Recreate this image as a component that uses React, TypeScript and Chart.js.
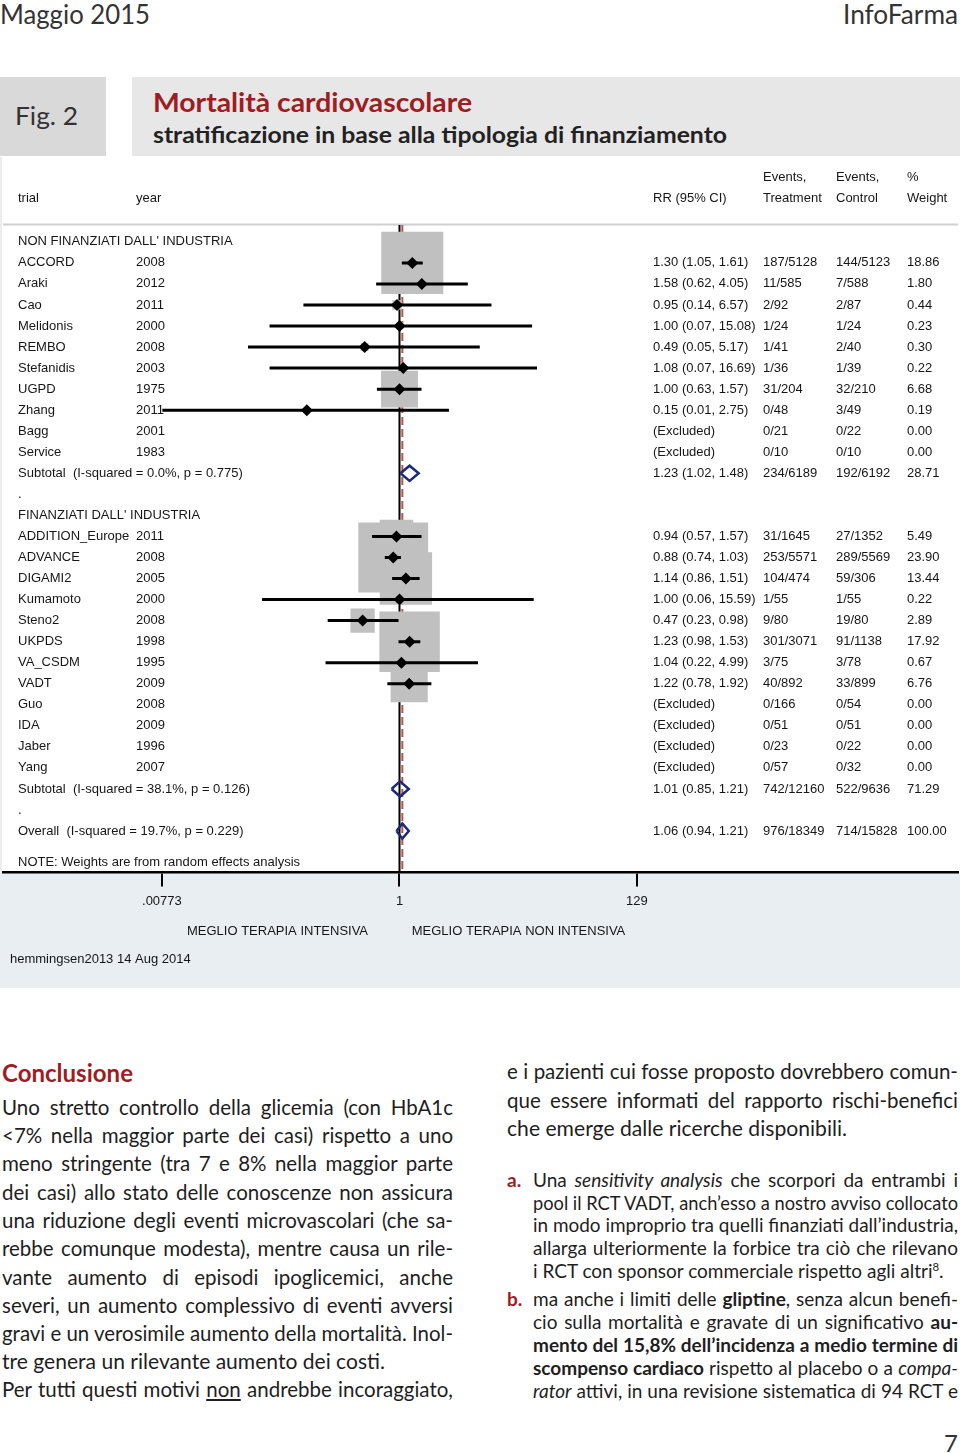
import React, { useEffect, useLayoutEffect, useRef } from 'react';
import { Chart, registerables } from 'chart.js';

Chart.register(...registerables);

// ---------------- data ----------------
const groupLabels = ["NON FINANZIATI DALL' INDUSTRIA", "FINANZIATI DALL' INDUSTRIA"];

const studyNames = ['ACCORD', 'Araki', 'Cao', 'Melidonis', 'REMBO', 'Stefanidis', 'UGPD', 'Zhang', 'Bagg', 'Service',
  'ADDITION_Europe', 'ADVANCE', 'DIGAMI2', 'Kumamoto', 'Steno2', 'UKPDS', 'VA_CSDM', 'VADT', 'Guo', 'IDA', 'Jaber', 'Yang'];
const studyYears = ['2008', '2012', '2011', '2000', '2008', '2003', '1975', '2011', '2001', '1983',
  '2011', '2008', '2005', '2000', '2008', '1998', '1995', '2009', '2008', '2009', '1996', '2007'];
const studyGroup = [0, 0, 0, 0, 0, 0, 0, 0, 0, 0, 1, 1, 1, 1, 1, 1, 1, 1, 1, 1, 1, 1];
const studyRR = [1.30, 1.58, 0.95, 1.00, 0.49, 1.08, 1.00, 0.15, null, null,
  0.94, 0.88, 1.14, 1.00, 0.47, 1.23, 1.04, 1.22, null, null, null, null];
const studyLow = [1.05, 0.62, 0.14, 0.07, 0.045, 0.07, 0.63, 0.0078, null, null,
  0.57, 0.74, 0.86, 0.06, 0.23, 0.98, 0.22, 0.78, null, null, null, null];
const studyHigh = [1.61, 4.05, 6.57, 15.08, 5.17, 16.69, 1.57, 2.75, null, null,
  1.57, 1.03, 1.51, 15.59, 0.98, 1.53, 4.99, 1.92, null, null, null, null];
const studyCIText = ['1.30 (1.05, 1.61)', '1.58 (0.62, 4.05)', '0.95 (0.14, 6.57)', '1.00 (0.07, 15.08)', '0.49 (0.05, 5.17)',
  '1.08 (0.07, 16.69)', '1.00 (0.63, 1.57)', '0.15 (0.01, 2.75)', '(Excluded)', '(Excluded)',
  '0.94 (0.57, 1.57)', '0.88 (0.74, 1.03)', '1.14 (0.86, 1.51)', '1.00 (0.06, 15.59)', '0.47 (0.23, 0.98)',
  '1.23 (0.98, 1.53)', '1.04 (0.22, 4.99)', '1.22 (0.78, 1.92)', '(Excluded)', '(Excluded)', '(Excluded)', '(Excluded)'];
const studyEventsT = ['187/5128', '11/585', '2/92', '1/24', '1/41', '1/36', '31/204', '0/48', '0/21', '0/10',
  '31/1645', '253/5571', '104/474', '1/55', '9/80', '301/3071', '3/75', '40/892', '0/166', '0/51', '0/23', '0/57'];
const studyEventsC = ['144/5123', '7/588', '2/87', '1/24', '2/40', '1/39', '32/210', '3/49', '0/22', '0/10',
  '27/1352', '289/5569', '59/306', '1/55', '19/80', '91/1138', '3/78', '33/899', '0/54', '0/51', '0/22', '0/32'];
const studyWeight = [18.86, 1.80, 0.44, 0.23, 0.30, 0.22, 6.68, 0.19, 0.00, 0.00,
  5.49, 23.90, 13.44, 0.22, 2.89, 17.92, 0.67, 6.76, 0.00, 0.00, 0.00, 0.00];

const poolLabels = ['Subtotal  (I-squared = 0.0%, p = 0.775)', 'Subtotal  (I-squared = 38.1%, p = 0.126)', 'Overall  (I-squared = 19.7%, p = 0.229)'];
const poolRR = [1.23, 1.01, 1.06];
const poolLow = [1.02, 0.85, 0.94];
const poolHigh = [1.48, 1.21, 1.21];
const poolCIText = ['1.23 (1.02, 1.48)', '1.01 (0.85, 1.21)', '1.06 (0.94, 1.21)'];
const poolEventsT = ['234/6189', '742/12160', '976/18349'];
const poolEventsC = ['192/6192', '522/9636', '714/15828'];
const poolWeightText = ['28.71', '71.29', '100.00'];

const headerTop = ['', '', '', 'Events,', 'Events,', '%'];
const headerBottom = ['trial', 'year', 'RR (95% CI)', 'Treatment', 'Control', 'Weight'];

const xTickValues = [0.00773, 1, 129];
const xTickLabels = ['.00773', '1', '129'];
const favourLabels = ['MEGLIO TERAPIA INTENSIVA', 'MEGLIO TERAPIA NON INTENSIVA'];
const noteText = 'NOTE: Weights are from random effects analysis';
const sourceText = 'hemmingsen2013 14 Aug 2014';

// ---------------- layout (styles) ----------------
const X_MIN = 0.000299; // log axis left edge
const X_MAX = 92140;    // log axis right edge
const Y_MIN = -0.8;
const Y_MAX = 29.97;
const COL_X = [18, 136, 653, 763, 836, 907];
const FONT = '13px "Liberation Sans", Arial, sans-serif';
const TXT = '#161616';

type RowItem = { kind: 'group' | 'study' | 'pool' | 'dot'; idx: number; row: number };
function buildRows(): RowItem[] {
  const rows: RowItem[] = [];
  let r = 0;
  for (let g = 0; g < groupLabels.length; g++) {
    rows.push({ kind: 'group', idx: g, row: r++ });
    studyNames.forEach((_, i) => { if (studyGroup[i] === g) rows.push({ kind: 'study', idx: i, row: r++ }); });
    rows.push({ kind: 'pool', idx: g, row: r++ });
    rows.push({ kind: 'dot', idx: 0, row: r++ });
  }
  rows.push({ kind: 'pool', idx: 2, row: r++ });
  return rows;
}

function ForestChart() {
  const ref = useRef<HTMLCanvasElement>(null);
  useEffect(() => {
    const rows = buildRows();
    const studyRows = rows.filter(r => r.kind === 'study');
    const poolRows = rows.filter(r => r.kind === 'pool');
    const noteRow = rows[rows.length - 1].row + 1.5;

    const boxes = studyRows.filter(r => studyRR[r.idx] != null && studyWeight[r.idx] > 0)
      .map(r => ({ x: studyRR[r.idx] as number, y: r.row, w: studyWeight[r.idx] }));
    const markers = studyRows.filter(r => studyRR[r.idx] != null)
      .map(r => ({ x: studyRR[r.idx] as number, y: r.row }));
    const whiskers: any[] = [];
    studyRows.filter(r => studyRR[r.idx] != null).forEach(r => {
      whiskers.push({ x: studyLow[r.idx], y: r.row }, { x: studyHigh[r.idx], y: r.row }, { x: studyHigh[r.idx], y: null });
    });
    const diamonds: any[] = [];
    const dh = 0.36;
    poolRows.forEach(r => {
      const k = r.idx;
      diamonds.push(
        { x: poolLow[k], y: r.row }, { x: poolRR[k], y: r.row - dh }, { x: poolHigh[k], y: r.row },
        { x: poolRR[k], y: r.row + dh }, { x: poolLow[k], y: r.row }, { x: poolLow[k], y: null });
    });

    const textPlugin = {
      id: 'forestText',
      beforeDraw(chart: any) {
        const { ctx, chartArea: a, width, height } = chart;
        ctx.save();
        ctx.fillStyle = '#ffffff';
        ctx.fillRect(0, 0, width, height);
        ctx.fillStyle = '#e8eef1';
        ctx.fillRect(0, a.bottom, width, height - a.bottom - 2);
        ctx.fillStyle = '#ececec';
        ctx.fillRect(0, 0, 2, a.bottom);
        ctx.fillStyle = '#d0d0d0';
        ctx.fillRect(a.left, a.top - 1.5, a.right - a.left, 2);
        ctx.restore();
      },
      beforeDatasetsDraw(chart: any) {
        const { ctx, scales: { y } } = chart;
        const Y = (r: number) => y.getPixelForValue(r);
        ctx.save();
        ctx.font = FONT;
        ctx.fillStyle = TXT;
        ctx.textBaseline = 'middle';
        ctx.textAlign = 'left';
        headerTop.forEach((t, i) => t && ctx.fillText(t, COL_X[i], Y(-3.05)));
        headerBottom.forEach((t, i) => t && ctx.fillText(t, COL_X[i], Y(-2.05)));
        rows.forEach(r => {
          let cells: string[] = [];
          if (r.kind === 'group') cells = [groupLabels[r.idx]];
          else if (r.kind === 'dot') cells = ['.'];
          else if (r.kind === 'study') {
            const i = r.idx;
            cells = [studyNames[i], studyYears[i], studyCIText[i], studyEventsT[i], studyEventsC[i], studyWeight[i].toFixed(2)];
          } else {
            const k = r.idx;
            cells = [poolLabels[k], '', poolCIText[k], poolEventsT[k], poolEventsC[k], poolWeightText[k]];
          }
          cells.forEach((t, i) => t && ctx.fillText(t, COL_X[i], Y(r.row)));
        });
        ctx.fillText(noteText, COL_X[0], Y(noteRow));
        ctx.restore();
      },
      afterDraw(chart: any) {
        const { ctx, chartArea: a } = chart;
        ctx.save();
        ctx.font = FONT;
        ctx.fillStyle = TXT;
        ctx.textBaseline = 'middle';
        ctx.textAlign = 'center';
        ctx.fillText(favourLabels[0], 277.5, a.bottom + 58.5);
        ctx.fillText(favourLabels[1], 518.5, a.bottom + 58.5);
        ctx.textAlign = 'left';
        ctx.fillText(sourceText, 10, a.bottom + 86.5);
        ctx.restore();
      },
    };

    const chart = new Chart(ref.current as HTMLCanvasElement, {
      type: 'scatter',
      data: {
        datasets: [
          { data: [{ x: 1, y: Y_MIN }, { x: 1, y: Y_MAX }], showLine: true, borderColor: '#000', borderWidth: 2, pointRadius: 0, order: 10 } as any,
          { data: [{ x: poolRR[2], y: Y_MIN }, { x: poolRR[2], y: Y_MAX }], showLine: true, borderColor: '#b4564c', borderWidth: 2, borderDash: [8, 4], pointRadius: 0, order: 9 } as any,
          {
            data: boxes, pointStyle: 'rect', backgroundColor: '#c0c0c0', borderWidth: 0, order: 8,
            pointRadius: (c: any) => { const d = c.raw; return d ? (14.28 * Math.sqrt(d.w)) / Math.SQRT2 : 0; },
          } as any,
          { data: whiskers, showLine: true, borderColor: '#000', borderWidth: 3, pointRadius: 0, order: 7, borderCapStyle: 'butt' } as any,
          { data: markers, pointStyle: 'rectRot', pointRadius: 6, backgroundColor: '#000', borderWidth: 0, order: 6 } as any,
          { data: diamonds, showLine: true, borderColor: '#1d2a76', borderWidth: 2.5, borderJoinStyle: 'miter', pointRadius: 0, order: 5 } as any,
        ],
      },
      options: {
        responsive: false,
        maintainAspectRatio: false,
        animation: false,
        events: [],
        layout: { autoPadding: false, padding: { left: 3, right: 2, top: 68, bottom: 0 } },
        plugins: { legend: { display: false }, tooltip: { enabled: false }, title: { display: false } },
        elements: { line: { tension: 0 } },
        datasets: { scatter: { clip: false } as any },
        scales: {
          x: {
            type: 'logarithmic',
            position: 'bottom',
            min: X_MIN,
            max: X_MAX,
            afterBuildTicks: (s: any) => { s.ticks = xTickValues.map(v => ({ value: v })); },
            afterFit: (s: any) => { s.height = 117.5; },
            ticks: {
              autoSkip: false, maxRotation: 0, minRotation: 0, padding: 7, color: TXT,
              font: { family: '"Liberation Sans", Arial, sans-serif', size: 13 },
              callback: (_v: any, i: number) => xTickLabels[i],
            },
            grid: { display: true, drawOnChartArea: false, drawTicks: true, tickLength: 14, color: '#000', lineWidth: 2 },
            border: { display: true, color: '#000', width: 2.5 },
          } as any,
          y: { type: 'linear', reverse: true, min: Y_MIN, max: Y_MAX, display: false },
        },
      },
      plugins: [textPlugin],
    } as any);
    return () => chart.destroy();
  }, []);
  return <canvas ref={ref} width={960} height={833} style={{ position: 'absolute', left: 0, top: 157, width: 960, height: 833 }} />;
}

// ---------------- page text helpers ----------------
type TP = { x: number; y: number; w: number; size: number; lh?: number; weight?: number; color?: string; mode?: 'justify' | 'left' | 'exact' | 'right'; children: React.ReactNode };
function T({ x, y, w, size, lh, weight, color, mode = 'left', children }: TP) {
  const h = lh ?? Math.round(size * 1.35);
  const align = mode === 'justify' ? 'justify' : mode === 'right' ? 'right' : 'left';
  return (
    <div data-fit={mode} style={{
      position: 'absolute', left: x, top: y - h / 2, width: w, height: h, lineHeight: h + 'px', fontSize: size,
      fontWeight: weight ?? 400, color: color ?? '#1e1e1e', fontFamily: 'Lato, "Open Sans", sans-serif', whiteSpace: 'nowrap',
      textAlign: align as any, textAlignLast: align as any,
    }}>{children}</div>
  );
}

const RED = '#9e1d23';

export default function App() {
  useLayoutEffect(() => {
    document.querySelectorAll<HTMLElement>('[data-fit]').forEach(el => {
      if (el.dataset.done) return;
      el.dataset.done = '1';
      const mode = el.dataset.fit;
      if (mode === 'right') return;
      const target = el.clientWidth;
      const range = document.createRange();
      range.selectNodeContents(el);
      const natural = range.getBoundingClientRect().width;
      if (natural > 0 && (mode === 'exact' || natural > target + 0.5)) {
        el.style.width = natural + 'px';
        el.style.transformOrigin = 'left center';
        el.style.transform = `scaleX(${target / natural})`;
      }
    });
  }, []);

  const L = 2, LW = 451, RX = 507, RW = 451, IX = 533, IW = 425;
  const BS = 20.5, LS = 19;
  return (
    <div style={{ position: 'relative', width: 960, height: 1453, overflow: 'hidden', background: '#fff' }}>
      <style>{'body{margin:0}'}</style>
      <T x={0} y={14} w={150} size={27} color="#333" mode="exact">Maggio 2015</T>
      <T x={843} y={14} w={115} size={27} color="#333" mode="exact">InfoFarma</T>

      <div style={{ position: 'absolute', left: 0, top: 77, width: 106, height: 79, background: '#d9d9d9' }} />
      <div style={{ position: 'absolute', left: 132, top: 77, width: 828, height: 79, background: '#e7e7e7' }} />
      <T x={15} y={115} w={63} size={25} color="#333" mode="exact">Fig. 2</T>
      <T x={153} y={102} w={319} size={27} weight={700} color={RED} mode="exact">Mortalità cardiovascolare</T>
      <T x={153} y={135} w={574} size={22} weight={700} color="#222" mode="exact">stratificazione in base alla tipologia di finanziamento</T>

      <ForestChart />

      <T x={L} y={1073} w={131} size={24} weight={700} color={RED} mode="exact">Conclusione</T>
      <T x={L} y={1107} w={LW} size={BS} mode="justify">Uno stretto controllo della glicemia (con HbA1c</T>
      <T x={L} y={1135} w={LW} size={BS} mode="justify">&lt;7% nella maggior parte dei casi) rispetto a uno</T>
      <T x={L} y={1163} w={LW} size={BS} mode="justify">meno stringente (tra 7 e 8% nella maggior parte</T>
      <T x={L} y={1192} w={LW} size={BS} mode="justify">dei casi) allo stato delle conoscenze non assicura</T>
      <T x={L} y={1220} w={LW} size={BS} mode="justify">una riduzione degli eventi microvascolari (che sa-</T>
      <T x={L} y={1248} w={LW} size={BS} mode="justify">rebbe comunque modesta), mentre causa un rile-</T>
      <T x={L} y={1277} w={LW} size={BS} mode="justify">vante aumento di episodi ipoglicemici, anche</T>
      <T x={L} y={1305} w={LW} size={BS} mode="justify">severi, un aumento complessivo di eventi avversi</T>
      <T x={L} y={1333} w={LW} size={BS} mode="justify">gravi e un verosimile aumento della mortalità. Inol-</T>
      <T x={L} y={1361} w={383} size={BS} mode="exact">tre genera un rilevante aumento dei costi.</T>
      <T x={L} y={1389} w={LW} size={BS} mode="justify">Per tutti questi motivi <span style={{ textDecoration: 'underline' }}>non</span> andrebbe incoraggiato,</T>

      <T x={RX} y={1071} w={RW} size={BS} mode="justify">e i pazienti cui fosse proposto dovrebbero comun-</T>
      <T x={RX} y={1100} w={RW} size={BS} mode="justify">que essere informati del rapporto rischi-benefici</T>
      <T x={RX} y={1128} w={340} size={BS} mode="exact">che emerge dalle ricerche disponibili.</T>

      <T x={RX} y={1180} w={24} size={LS} weight={700} color={RED}>a.</T>
      <T x={IX} y={1180} w={IW} size={LS} mode="justify">Una <i>sensitivity analysis</i> che scorpori da entrambi i</T>
      <T x={IX} y={1203} w={IW} size={LS} mode="justify">pool il RCT VADT, anch’esso a nostro avviso collocato</T>
      <T x={IX} y={1225} w={IW} size={LS} mode="justify">in modo improprio tra quelli finanziati dall’industria,</T>
      <T x={IX} y={1248} w={IW} size={LS} mode="justify">allarga ulteriormente la forbice tra ciò che rilevano</T>
      <T x={IX} y={1271} w={IW} size={LS} mode="left">i RCT con sponsor commerciale rispetto agli altri<sup style={{ fontSize: '0.6em', lineHeight: 0 }}>8</sup>.</T>

      <T x={RX} y={1299} w={24} size={LS} weight={700} color={RED}>b.</T>
      <T x={IX} y={1299} w={IW} size={LS} mode="justify">ma anche i limiti delle <b>gliptine</b>, senza alcun benefi-</T>
      <T x={IX} y={1322} w={IW} size={LS} mode="justify">cio sulla mortalità e gravate di un significativo <b>au-</b></T>
      <T x={IX} y={1345} w={IW} size={LS} mode="justify"><b>mento del 15,8% dell’incidenza a medio termine di</b></T>
      <T x={IX} y={1368} w={IW} size={LS} mode="justify"><b>scompenso cardiaco</b> rispetto al placebo o a <i>compa-</i></T>
      <T x={IX} y={1391} w={IW} size={LS} mode="justify"><i>rator</i> attivi, in una revisione sistematica di 94 RCT e</T>

      <T x={930} y={1443} w={28} size={24} color="#333" mode="right">7</T>
    </div>
  );
}
